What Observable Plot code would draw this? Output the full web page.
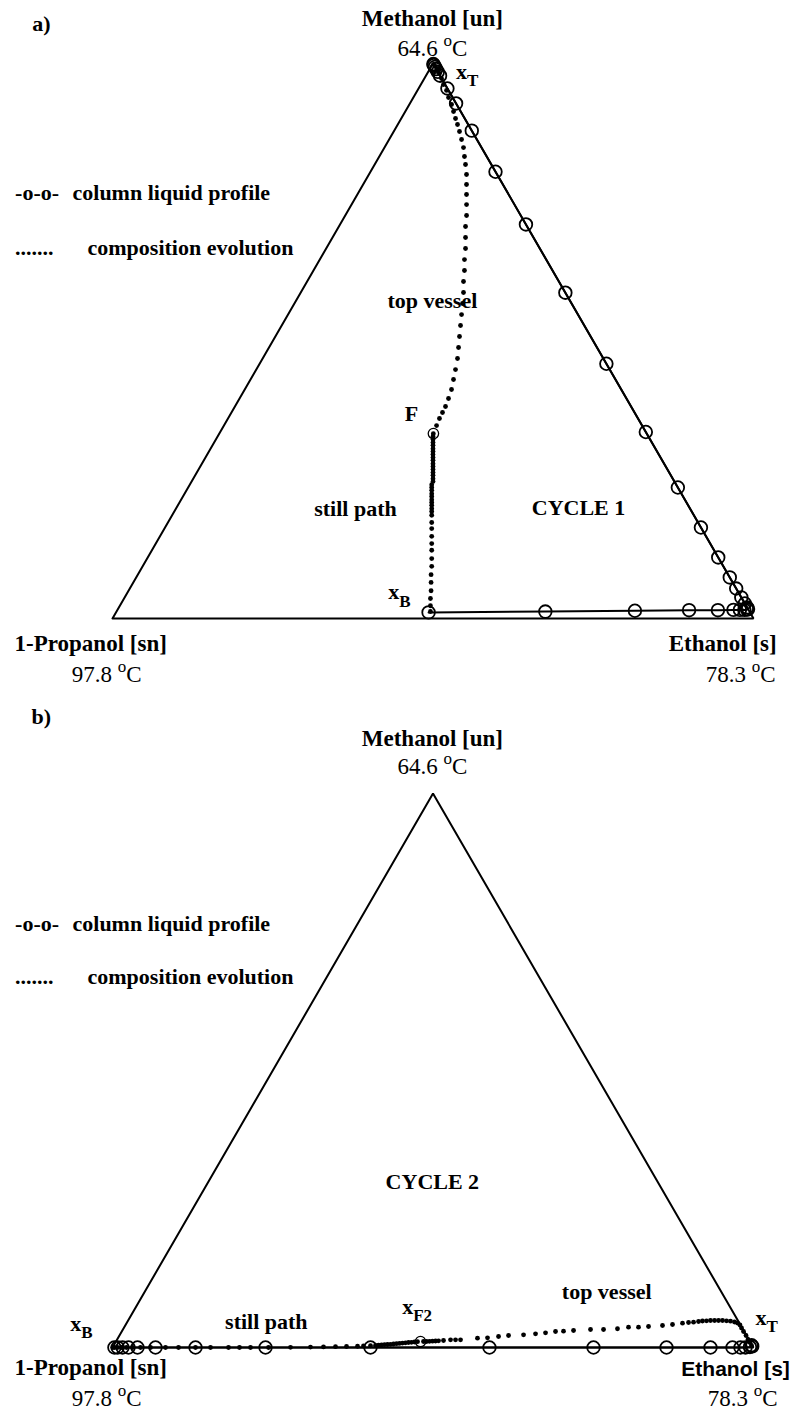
<!DOCTYPE html>
<html>
<head>
<meta charset="utf-8">
<script src="https://cdn.jsdelivr.net/npm/d3@7"></script>
<script src="https://cdn.jsdelivr.net/npm/@observablehq/plot@0.6"></script>
<style>
  html, body { margin: 0; padding: 0; background: #fff; }
  #chart svg { display: block; }
</style>
</head>
<body>
<div id="chart"></div>
<script>
// Ternary diagram: methanol (top), 1-propanol (left), ethanol (right).
// Every series is stored as mole fractions of methanol and ethanol.

// ---- Cycle 1 ----
const cycle1ProfileMethanol = [0.999, 0.997, 0.994, 0.990, 0.985, 0.978, 0.955, 0.928, 0.879, 0.805,
  0.710, 0.587, 0.459, 0.336, 0.236, 0.164, 0.110, 0.074, 0.054, 0.038, 0.027, 0.020, 0.017,
  0.016, 0.0155, 0.0155, 0.0155, 0.015, 0.015, 0.014, 0.0125, 0.011];
const cycle1ProfileEthanol = [0.001, 0.003, 0.006, 0.010, 0.015, 0.022, 0.045, 0.072, 0.121, 0.195,
  0.290, 0.413, 0.541, 0.664, 0.764, 0.836, 0.890, 0.926, 0.946, 0.962, 0.973, 0.980, 0.983,
  0.982, 0.978, 0.971, 0.961, 0.937, 0.892, 0.808, 0.669, 0.4876];

const cycle1FeedMethanol = [0.3333];
const cycle1FeedEthanol = [0.334];

const cycle1StillMethanol = [0.333, 0.328, 0.3225, 0.317, 0.312, 0.306, 0.301, 0.2955, 0.290, 0.285,
  0.279, 0.274, 0.2685, 0.263, 0.258, 0.252, 0.247, 0.241, 0.236, 0.231, 0.225, 0.220, 0.214, 0.209,
  0.204, 0.198, 0.193, 0.186, 0.173, 0.162, 0.148, 0.135, 0.123, 0.108, 0.094, 0.079, 0.065, 0.050,
  0.036, 0.023, 0.0126];
const cycle1StillEthanol = [0.334, 0.336, 0.3388, 0.3415, 0.344, 0.347, 0.3495, 0.3522, 0.355, 0.3575,
  0.3605, 0.363, 0.3658, 0.3685, 0.371, 0.374, 0.3765, 0.3775, 0.380, 0.3825, 0.3855, 0.388, 0.391,
  0.3935, 0.396, 0.399, 0.4015, 0.405, 0.4115, 0.417, 0.424, 0.4305, 0.4365, 0.444, 0.451, 0.4575,
  0.4645, 0.472, 0.478, 0.4845, 0.4897];

const cycle1TopMethanol = [0.3477, 0.3604, 0.3712, 0.3820, 0.3964, 0.4126, 0.4306, 0.4486, 0.4685,
  0.4883, 0.5081, 0.5279, 0.5477, 0.5676, 0.5874, 0.6072, 0.6270, 0.6468, 0.6667, 0.6865, 0.7063,
  0.7261, 0.7459, 0.7640, 0.7820, 0.8000, 0.8180, 0.8324, 0.8486, 0.8631, 0.8775, 0.8901, 0.9009,
  0.9135, 0.9261, 0.9387, 0.9514, 0.9622, 0.9730, 0.9820, 0.9892, 0.9946, 0.9982];
const cycle1TopEthanol = [0.3317, 0.3299, 0.3292, 0.3285, 0.3260, 0.3226, 0.3167, 0.3108, 0.3040,
  0.2957, 0.2873, 0.2790, 0.2707, 0.2622, 0.2539, 0.2440, 0.2356, 0.2257, 0.2174, 0.2075, 0.1976,
  0.1893, 0.1794, 0.1703, 0.1613, 0.1523, 0.1417, 0.1329, 0.1233, 0.1130, 0.1026, 0.0932, 0.0847,
  0.0753, 0.0659, 0.0549, 0.0454, 0.0353, 0.0268, 0.0191, 0.0124, 0.0066, 0.0017];

// ---- Cycle 2 ----
const cycle2ProfileMethanol = [0.004, 0.002, 0.001, 0, 0, 0, 0, 0, 0, 0, 0, 0, 0, 0, 0, 0, 0, 0, 0];
const cycle2ProfileEthanol = [0.995, 0.997, 0.994, 0.9875, 0.9797, 0.9672, 0.9329, 0.8643, 0.7504,
  0.5881, 0.4025, 0.2387, 0.1295, 0.0671, 0.039, 0.025, 0.0156, 0.008, 0.003];

const cycle2FeedMethanol = [0.0108];
const cycle2FeedEthanol = [0.4751];

const cycle2StillMethanol = [0.0105, 0.0099, 0.0094, 0.0090, 0.0085, 0.0079, 0.0074, 0.0069, 0.0063,
  0.0058, 0.0054, 0.0051, 0.0045, 0.0042, 0.0036, 0.0032, 0.0027, 0.0023, 0.0018, 0.0014, 0.0011,
  0.0007, 0.0004, 0, 0, 0, 0, 0, 0, 0, 0, 0, 0, 0, 0, 0, 0, 0, 0];
const cycle2StillEthanol = [0.4706, 0.4662, 0.4618, 0.4573, 0.4528, 0.4485, 0.4440, 0.4396, 0.4352,
  0.4308, 0.4263, 0.4218, 0.4174, 0.4129, 0.4085, 0.4009, 0.3902, 0.3811, 0.3642, 0.3472, 0.3286,
  0.3085, 0.2775, 0.2434, 0.2153, 0.1981, 0.1810, 0.1529, 0.1295, 0.1030, 0.0827, 0.0593, 0.0437,
  0.0312, 0.0218, 0.0140, 0.0078, 0.0031, 0.0005];

const cycle2TopMethanol = [0.0108, 0.0108, 0.0112, 0.0114, 0.0117, 0.0121, 0.0126, 0.0139, 0.0139,
  0.0139, 0.0168, 0.0175, 0.0199, 0.0217, 0.0229, 0.0247, 0.0265, 0.0289, 0.0294, 0.0307, 0.0325,
  0.0325, 0.0338, 0.0366, 0.0366, 0.0379, 0.0397, 0.0415, 0.0439, 0.0451, 0.0457, 0.0469, 0.0478,
  0.0482, 0.0487, 0.0487, 0.0487, 0.0487, 0.0482, 0.0475, 0.0460, 0.0442, 0.0406, 0.0352, 0.0289,
  0.0217, 0.0144, 0.0090, 0.0036];
const cycle2TopEthanol = [0.4798, 0.4845, 0.4889, 0.4935, 0.4981, 0.5026, 0.5101, 0.5204, 0.5282,
  0.5360, 0.5610, 0.5763, 0.5923, 0.6070, 0.6298, 0.6476, 0.6623, 0.6767, 0.6889, 0.7039, 0.7295,
  0.7498, 0.7709, 0.7867, 0.8023, 0.8173, 0.8382, 0.8529, 0.8673, 0.8761, 0.8836, 0.8908, 0.8965,
  0.9026, 0.9086, 0.9149, 0.9211, 0.9273, 0.9338, 0.9404, 0.9474, 0.9529, 0.9586, 0.9637, 0.9700,
  0.9775, 0.9842, 0.9900, 0.9951];

// Pure-component corners (methanol, ethanol): propanol, methanol, ethanol, back to propanol
const cornerMethanol = [0, 1, 0, 0];
const cornerEthanol = [0, 0, 1, 0];

// Component labels and boiling points
const topComponent = "Methanol [un]";
const leftComponent = "1-Propanol [sn]";
const rightComponent = "Ethanol [s]";
const topBoiling = "64.6 ^{o}C";
const leftBoiling = "97.8 ^{o}C";
const rightBoiling = "78.3 ^{o}C";

// Barycentric -> cartesian (equilateral triangle, unit base)
const toXY = (m, e) => m.map((mi, i) => ({x: e[i] + mi / 2, y: mi}));

const SERIF = "Liberation Serif, Times New Roman, serif";
const SANS = "Liberation Sans, Arial, sans-serif";
const LABEL = 22;   // bold annotation size
const TEMP = 23;    // boiling-point size

function label(text, x, y, o = {}) {
  return Plot.text([{x, y, text}], {
    x: "x", y: "y", text: "text",
    fontFamily: SERIF, fontWeight: "bold", fontSize: LABEL, fill: "black", ...o
  });
}
const temp = (text, x, y) => label(text, x, y, {fontWeight: "normal", fontSize: TEMP});

function panel({profile, feed, still, top, marginTop, marginBottom, labels}) {
  return Plot.plot({
    width: 797,
    height: 706,
    marginLeft: 112,
    marginRight: 44,
    marginTop,
    marginBottom,
    x: {domain: [0, 1], axis: null},
    y: {domain: [0, 1], axis: null},
    style: {background: "white", overflow: "visible"},
    marks: [
      Plot.line(toXY(cornerMethanol, cornerEthanol), {x: "x", y: "y", stroke: "black", strokeWidth: 2, strokeLinejoin: "miter"}),
      Plot.line(profile, {x: "x", y: "y", stroke: "black", strokeWidth: 2}),
      Plot.dot(still, {x: "x", y: "y", r: 2.4, fill: "black", stroke: "none"}),
      Plot.dot(top, {x: "x", y: "y", r: 2.4, fill: "black", stroke: "none"}),
      Plot.dot(profile, {x: "x", y: "y", r: 6.3, fill: "none", stroke: "black", strokeWidth: 1.8}),
      Plot.dot(feed, {x: "x", y: "y", r: 5.2, fill: "none", stroke: "black", strokeWidth: 1.3}),
      ...labels
    ]
  });
}

const legend = (y1, y2) => [
  label("-o-o-", -0.152, y1, {textAnchor: "start"}),
  label("column liquid profile", -0.0624, y1, {textAnchor: "start"}),
  label(".......", -0.152, y2, {textAnchor: "start"}),
  label("composition evolution", -0.039, y2, {textAnchor: "start"})
];

// Cycle 1: apex at y=63, base at y=618 of the page
const chartA = panel({
  profile: toXY(cycle1ProfileMethanol, cycle1ProfileEthanol),
  feed: toXY(cycle1FeedMethanol, cycle1FeedEthanol),
  still: toXY(cycle1StillMethanol, cycle1StillEthanol),
  top: toXY(cycle1TopMethanol, cycle1TopEthanol),
  marginTop: 63,
  marginBottom: 88,
  labels: [
    label("a)", -0.111, 1.072),
    label(topComponent, 0.499, 1.081, {fontSize: 23}),
    temp(topBoiling, 0.499, 1.027),
    label("x_{T}", 0.536, 0.985, {textAnchor: "start"}),
    ...legend(0.766, 0.668),
    label("top vessel", 0.499, 0.573),
    label("F", 0.4665, 0.369),
    label("still path", 0.379, 0.198),
    label("CYCLE 1", 0.727, 0.200),
    label("x_{B}", 0.430, 0.047, {textAnchor: "start"}),
    label(leftComponent, -0.034, -0.045, {fontSize: 23}),
    temp(leftBoiling, -0.009, -0.101),
    label(rightComponent, 0.952, -0.045, {fontSize: 23}),
    temp(rightBoiling, 0.980, -0.101)
  ]
});

// Cycle 2: apex at y=793, base at y=1347 of the page
const chartB = panel({
  profile: toXY(cycle2ProfileMethanol, cycle2ProfileEthanol),
  feed: toXY(cycle2FeedMethanol, cycle2FeedEthanol),
  still: toXY(cycle2StillMethanol, cycle2StillEthanol),
  top: toXY(cycle2TopMethanol, cycle2TopEthanol),
  marginTop: 87,
  marginBottom: 65,
  labels: [
    label("b)", -0.111, 1.139),
    label(topComponent, 0.499, 1.0993, {fontSize: 23}),
    temp(topBoiling, 0.499, 1.0487),
    ...legend(0.765, 0.668),
    label("CYCLE 2", 0.499, 0.2996),
    label("top vessel", 0.771, 0.101),
    label("still path", 0.240, 0.047),
    label("x_{F2}", 0.452, 0.074, {textAnchor: "start"}),
    label("x_{T}", 1.003, 0.054, {textAnchor: "start"}),
    label("x_{B}", -0.066, 0.042, {textAnchor: "start"}),
    label(leftComponent, -0.034, -0.037, {fontSize: 23}),
    temp(leftBoiling, -0.009, -0.092),
    label(rightComponent, 0.972, -0.040, {fontFamily: SANS, fontSize: 21}),
    temp(rightBoiling, 0.983, -0.092)
  ]
});

const root = document.getElementById("chart");
root.appendChild(chartA);
root.appendChild(chartB);

// Turn "_{..}" and "^{..}" into sub/superscript tspans
const NS = "http://www.w3.org/2000/svg";
root.querySelectorAll("text").forEach(node => {
  const s = node.textContent;
  if (!/[_^]\{/.test(s)) return;
  const fs = parseFloat(getComputedStyle(node).fontSize) || 20;
  node.textContent = "";
  const re = /([_^])\{([^}]*)\}|([^_^]+)/g;
  let m, shift = 0;
  while ((m = re.exec(s))) {
    const ts = document.createElementNS(NS, "tspan");
    if (m[3] !== undefined) {
      ts.textContent = m[3];
      if (shift) ts.setAttribute("dy", -shift);
      shift = 0;
    } else {
      const d = m[1] === "_" ? 0.32 * fs : -0.42 * fs;
      ts.textContent = m[2];
      ts.setAttribute("dy", d - shift);
      ts.setAttribute("font-size", Math.round(fs * (m[1] === "_" ? 0.78 : 0.72)));
      shift = d;
    }
    node.appendChild(ts);
  }
});
</script>
</body>
</html>
